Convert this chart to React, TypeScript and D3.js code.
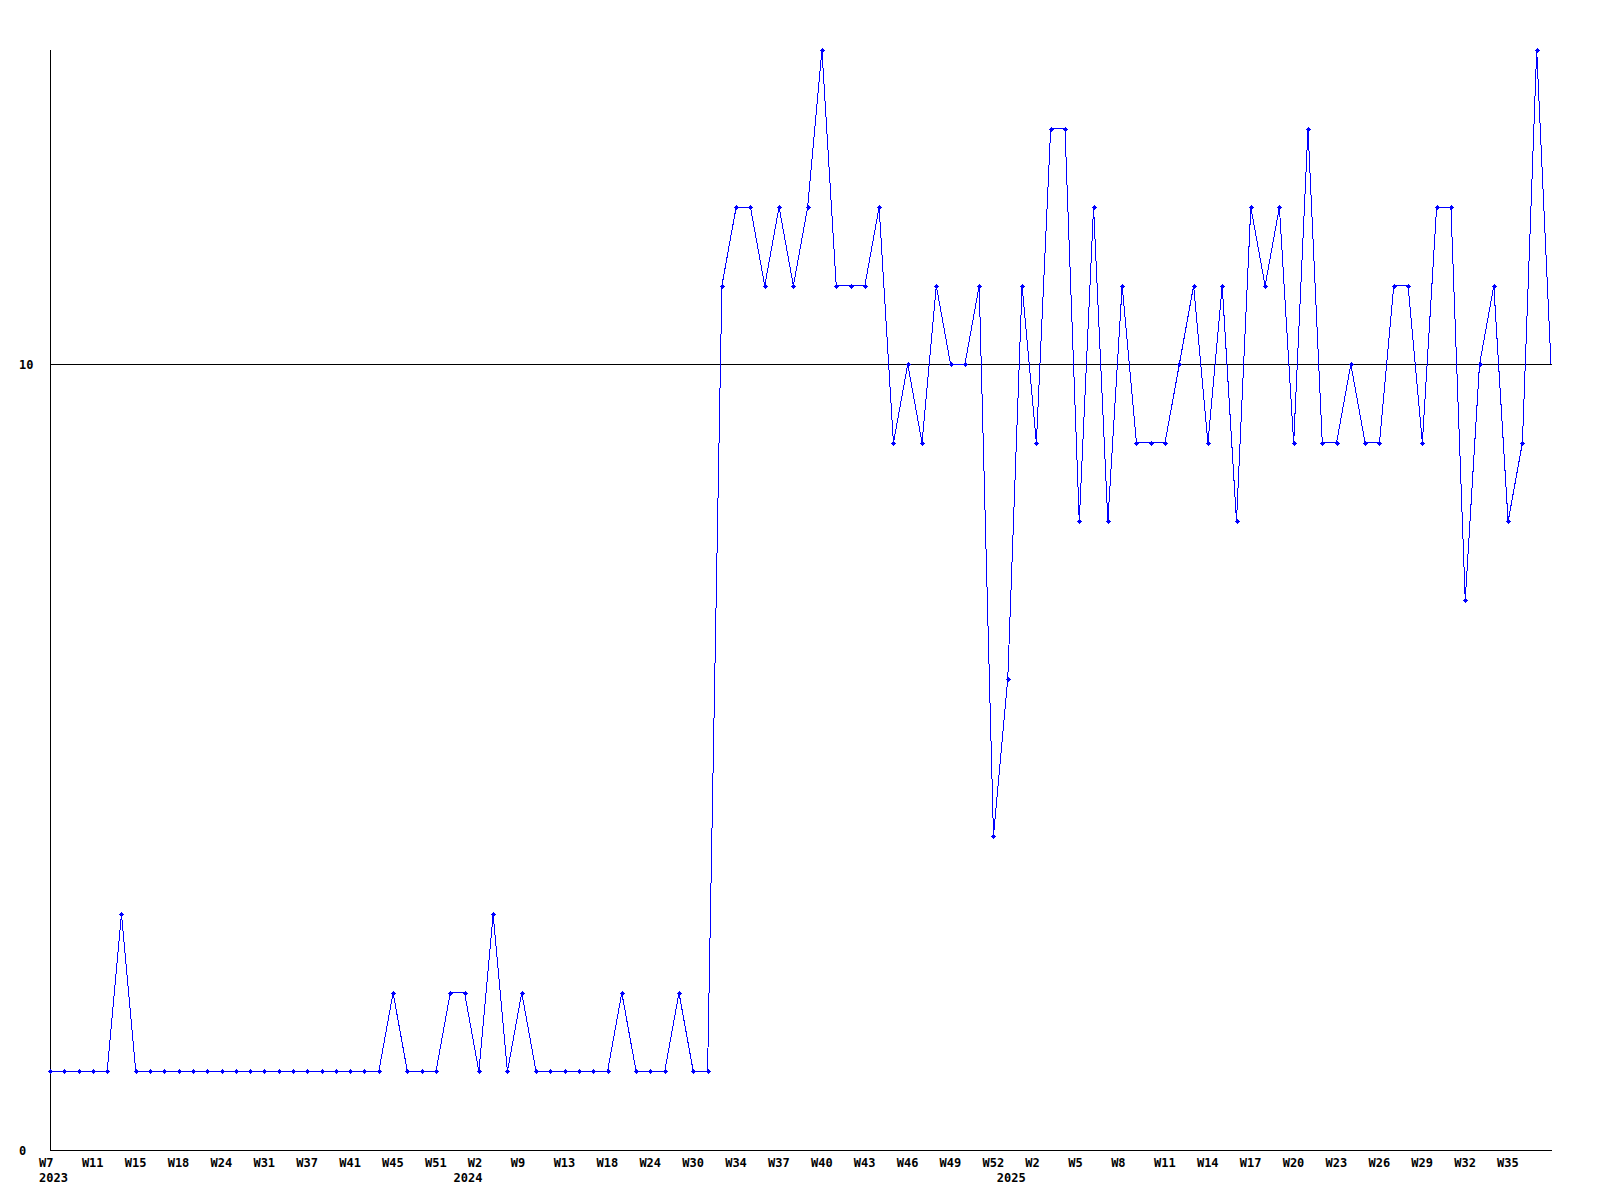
import React from "react";
import * as d3 from "d3";

// weekly values, one per data point (equally spaced categories)
const values: number[] = [
  1, 1, 1, 1, 1, 3, 1, 1, 1, 1, 1, 1, 1, 1, 1, 1, 1, 1, 1, 1, 1, 1, 1, 1,
  2, 1, 1, 1, 2, 2, 1, 3, 1, 2, 1, 1, 1, 1, 1, 1, 2, 1, 1, 1, 2, 1, 1,
  11, 12, 12, 11, 12, 11, 12, 14, 11, 11, 11, 12,
  9, 10, 9, 11, 10, 10, 11,
  4, 6, 11, 9, 13, 13, 8, 12, 8, 11, 9, 9, 9, 10, 11, 9, 11, 8, 12, 11,
  12, 9, 13, 9, 9, 10, 9, 9, 11, 11, 9, 12, 12, 7, 10, 11, 8, 9, 14, 10,
];

// week labels shown on every third point
const weekTickLabels: string[] = [
  "W7", "W11", "W15", "W18", "W24", "W31", "W37", "W41", "W45", "W51",
  "W2", "W9", "W13", "W18", "W24", "W30", "W34", "W37", "W40", "W43",
  "W46", "W49", "W52", "W2", "W5", "W8", "W11", "W14", "W17", "W20",
  "W23", "W26", "W29", "W32", "W35",
];
const tickStep = 3;

// year labels placed under the first point of each year
const yearLabels: string[] = ["2023", "2024", "2025"];
const yearStartIndex: number[] = [0, 29, 67];

const yTickValues: number[] = [0, 10];
const yMax = 14;

const W = 1600;
const H = 1200;
const left = 50;
const right = 1551;
const top = 50;
const bottom = 1150;
const FONT = "'DejaVu Sans Mono', 'Liberation Mono', monospace";

export default function App() {
  const x = d3.scaleLinear().domain([0, values.length - 1]).range([left, right]);
  const y = d3.scaleLinear().domain([0, yMax]).range([bottom, top]);
  const line = d3
    .line<number>()
    .x((_, i) => x(i))
    .y((d) => y(d));

  const px = (v: number) => Math.round(v) + 0.5;

  return (
    <div style={{ position: "absolute", left: 0, top: 0 }}>
      <svg width={W} height={H} style={{ display: "block", background: "#fff" }}>
        <rect x={0} y={0} width={W} height={H} fill="#fff" />
        {/* y axis */}
        <line x1={px(left)} x2={px(left)} y1={top} y2={bottom + 1} stroke="#000" strokeWidth={1} shapeRendering="crispEdges" />
        {/* x axis */}
        <line x1={left} x2={right + 1} y1={px(bottom)} y2={px(bottom)} stroke="#000" strokeWidth={1} shapeRendering="crispEdges" />
        {/* grid at y ticks other than 0 */}
        {yTickValues
          .filter((v) => v !== 0)
          .map((v) => (
            <line key={"g" + v} x1={left} x2={right + 1} y1={px(y(v))} y2={px(y(v))} stroke="#000" strokeWidth={1} shapeRendering="crispEdges" />
          ))}
        {/* y labels */}
        {yTickValues.map((v) => (
          <text key={"yl" + v} x={19} y={y(v) + 4.5} fontFamily={FONT} fontWeight="bold" fontSize={12} fill="#000">
            {v}
          </text>
        ))}
        {/* data line */}
        <path d={line(values) || ""} fill="none" stroke="#0000ff" strokeWidth={1} shapeRendering="crispEdges" />
        {/* markers */}
        {values.slice(0, -1).map((v, i) => {
          const cx = Math.round(x(i));
          const cy = Math.round(y(v));
          return (
            <g key={"m" + i} fill="#0000ff" shapeRendering="crispEdges">
              <rect x={cx - 2} y={cy} width={5} height={1} />
              <rect x={cx} y={cy - 2} width={1} height={5} />
              <rect x={cx - 1} y={cy - 1} width={3} height={3} />
            </g>
          );
        })}
        {/* week labels */}
        {weekTickLabels.map((lab, k) => (
          <text key={"wl" + k} x={x(k * tickStep) - 11} y={1166.5} fontFamily={FONT} fontWeight="bold" fontSize={12} fill="#000">
            {lab}
          </text>
        ))}
        {/* year labels */}
        {yearLabels.map((lab, k) => (
          <text key={"yr" + k} x={x(yearStartIndex[k]) - 11} y={1182} fontFamily={FONT} fontWeight="bold" fontSize={12} fill="#000">
            {lab}
          </text>
        ))}
      </svg>
    </div>
  );
}
